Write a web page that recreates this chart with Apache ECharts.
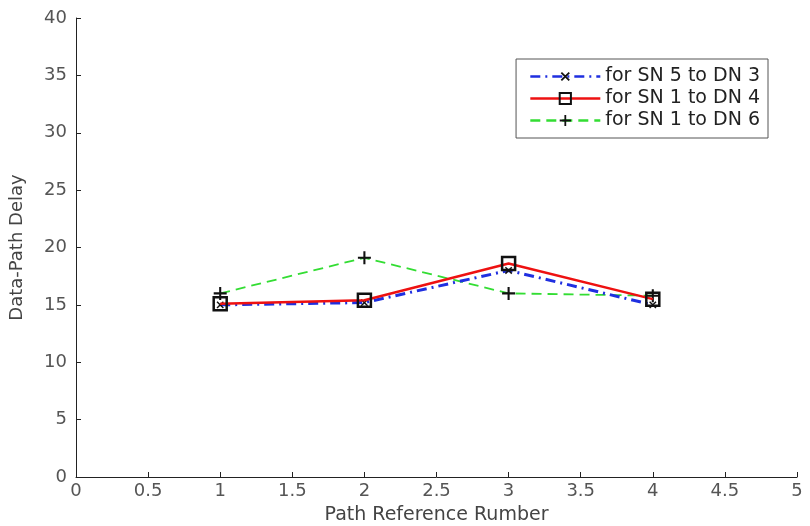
<!DOCTYPE html>
<html><head><meta charset="utf-8">
<script src="https://cdn.jsdelivr.net/npm/echarts@6/dist/echarts.min.js"></script>
<style>html,body{margin:0;padding:0;background:#fff}#c{width:810px;height:526px}</style>
</head><body><div id="c"></div>
<script>
const xValues = [1, 2, 3, 4];
const seriesNames = ['for SN 5 to DN 3', 'for SN 1 to DN 4', 'for SN 1 to DN 6'];
const sn5dn3 = [15.0, 15.2, 18.0, 15.0];
const sn1dn4 = [15.1, 15.4, 18.6, 15.5];
const sn1dn6 = [16.0, 19.1, 16.0, 15.8];
const xTicks = [0, 0.5, 1, 1.5, 2, 2.5, 3, 3.5, 4, 4.5, 5];
const yTicks = [0, 5, 10, 15, 20, 25, 30, 35, 40];

const plus = 'path://M4.2,0h1.6v10h-1.6zM0,4.2h10v1.6h-10z';
const pair = arr => xValues.map((x, i) => [x, arr[i]]);
const font = 'DejaVu Sans, Liberation Sans, sans-serif';

const chart = echarts.init(document.getElementById('c'));
chart.setOption({
  animation: false,
  backgroundColor: '#fff',
  grid: { left: 76, right: 13, top: 18, bottom: 49, containLabel: false, outerBoundsMode: 'none' },
  legend: {
    right: 42, top: 59, orient: 'vertical',
    borderColor: '#555', borderWidth: 1, padding: [8, 8, 8, 13],
    itemWidth: 70, itemHeight: 14, itemGap: 3,
    lineStyle: { width: 2.5 },
    textStyle: { fontFamily: font, fontSize: 19, color: '#222' },
    data: seriesNames
  },
  xAxis: {
    type: 'value', min: 0, max: 5, interval: 0.5,
    name: 'Path Reference Rumber', nameLocation: 'middle', nameGap: 29,
    nameTextStyle: { fontFamily: font, fontSize: 19, color: '#444' },
    axisLine: { lineStyle: { color: '#222', width: 1 } },
    axisTick: { inside: true, length: 5, lineStyle: { color: '#222' } },
    axisLabel: { fontFamily: font, fontSize: 18, color: '#555', margin: 5,
      formatter: v => xTicks.includes(v) ? String(v) : '' },
    splitLine: { show: false }
  },
  yAxis: {
    type: 'value', min: 0, max: 40, interval: 5,
    name: 'Data-Path Delay', nameLocation: 'middle', nameGap: 50,
    nameTextStyle: { fontFamily: font, fontSize: 18, color: '#444' },
    axisLine: { show: true, lineStyle: { color: '#222', width: 1 } },
    axisTick: { show: true, inside: true, length: 5, lineStyle: { color: '#222' } },
    axisLabel: { fontFamily: font, fontSize: 18, color: '#555', margin: 9,
      formatter: v => yTicks.includes(v) ? String(v) : '' },
    splitLine: { show: false }
  },
  series: [
    { name: seriesNames[0], type: 'line', data: pair(sn5dn3),
      symbol: plus, symbolRotate: 45, symbolSize: 9,
      lineStyle: { color: '#1f2fe0', width: 3, type: [10, 5, 2, 5] },
      itemStyle: { color: '#111' }, z: 2 },
    { name: seriesNames[1], type: 'line', data: pair(sn1dn4),
      symbol: 'rect', symbolSize: 13,
      lineStyle: { color: '#ee1111', width: 2.5, type: 'solid' },
      itemStyle: { color: 'transparent', borderColor: '#111', borderWidth: 2.5 }, z: 3 },
    { name: seriesNames[2], type: 'line', data: pair(sn1dn6),
      symbol: plus, symbolSize: 13,
      lineStyle: { color: '#33dd33', width: 1.8, type: [10, 6] },
      itemStyle: { color: '#111' }, z: 1 }
  ]
});
</script></body></html>
